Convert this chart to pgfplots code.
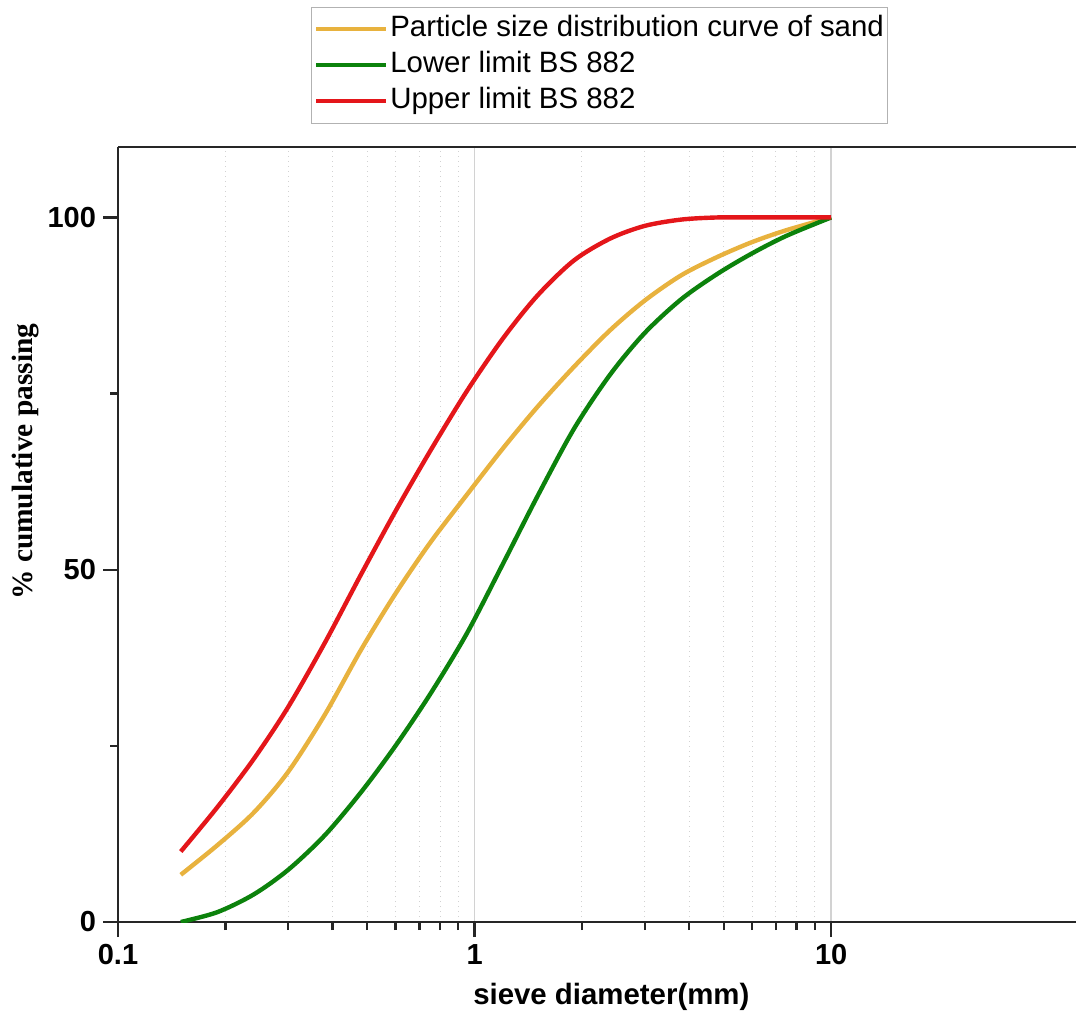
\documentclass[border=0pt]{standalone}
\usepackage{pgfplots}
\pgfplotsset{compat=1.18}
\usepackage{fontspec}
\setmainfont{Liberation Sans}
\newfontfamily\timesfont{Liberation Serif}

\definecolor{sandcol}{RGB}{232,178,62}
\definecolor{lowcol}{RGB}{12,130,12}
\definecolor{upcol}{RGB}{228,22,26}

\begin{document}
\begin{tikzpicture}
\begin{axis}[
  scale only axis, width=479pt, height=387.5pt,
  xmode=log, xmin=0.1, xmax=48.6, ymin=0, ymax=110,
  axis x line=box, axis y line=left,
  axis line style={line width=1.4pt, black!85},
  y axis line style={-},
  xtick={0.1,1,10}, xticklabels={0.1,1,10},
  ytick={0,50,100}, yticklabels={0,50,100},
  minor ytick={25,75},
  xtick pos=bottom, ytick pos=left,
  tick align=outside,
  major tick length=7.5pt, minor tick length=4pt,
  every tick/.append style={black!85, line width=1.2pt},
  xmajorgrids, xminorgrids,
  major grid style={gray!35, line width=0.8pt, solid},
  minor grid style={gray!35, line width=0.5pt, dotted},
  tick label style={font=\fontsize{14.5}{17}\selectfont\bfseries},
  xlabel={sieve diameter(mm)},
  ylabel={\% cumulative passing},
  xlabel style={font=\fontsize{14.7}{17}\selectfont\bfseries,
    at={(axis description cs:0.515,-0.107)}, anchor=base},
  ylabel style={font=\timesfont\fontsize{14.7}{17}\selectfont\bfseries,
    at={(axis description cs:-0.096,0.594)}, anchor=center},
  legend style={at={(axis description cs:0.503,1.03)}, anchor=south,
    draw=gray!60, line width=0.5pt,
    font=\fontsize{14.7}{17}\selectfont,
    inner xsep=1pt, inner ysep=2pt, row sep=0pt,
    nodes={inner xsep=1pt, inner ysep=1.5pt, text height=11pt, text depth=4pt},
    cells={anchor=west}},
  legend image code/.code={\draw[#1] (0pt,0pt) -- (35pt,0pt);},
]
% sand grading
\addplot[sandcol, line width=2.2pt, smooth] coordinates {
  (0.15,6.7) (0.19,10.9) (0.24,15.5) (0.3,21.3) (0.38,29.4) (0.48,38.6)
  (0.6,46.6) (0.75,53.8) (0.95,60.6) (1.2,67.2) (1.5,73.1) (1.9,78.8)
  (2.4,84.0) (3,88.2) (3.8,91.8) (4.8,94.4) (6,96.5) (7.5,98.2) (10,100)
};
\addlegendentry{Particle size distribution curve of sand}
% BS 882 lower envelope
\addplot[lowcol, line width=2.2pt, smooth] coordinates {
  (0.15,0) (0.19,1.4) (0.24,3.9) (0.3,7.4) (0.38,12.3) (0.48,18.4)
  (0.6,25.0) (0.75,32.3) (0.95,40.9) (1.2,50.8) (1.5,60.4) (1.9,70.0)
  (2.4,77.7) (3,83.6) (3.8,88.4) (4.8,92.0) (6,94.9) (7.5,97.4) (10,100)
};
\addlegendentry{Lower limit BS 882}
% BS 882 upper envelope
\addplot[upcol, line width=2.2pt, smooth] coordinates {
  (0.15,10) (0.19,16.3) (0.24,23.1) (0.3,30.5) (0.38,39.6) (0.48,49.3)
  (0.6,58.3) (0.75,66.8) (0.95,75.3) (1.2,82.8) (1.5,88.9) (1.9,93.9)
  (2.4,97.0) (3,98.8) (3.8,99.7) (4.8,100) (6,100) (7.5,100) (10,100)
};
\addlegendentry{Upper limit BS 882}
\end{axis}
\pgfresetboundingbox
\path[use as bounding box] (-59pt,-50pt) rectangle (479pt,461pt);
\end{tikzpicture}
\end{document}
